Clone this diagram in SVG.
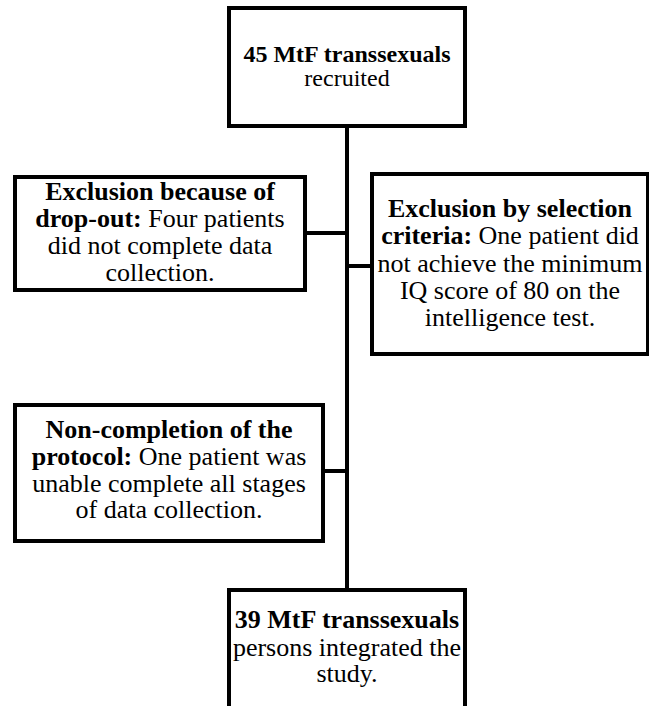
<svg xmlns="http://www.w3.org/2000/svg" width="649" height="706" viewBox="0 0 649 706">
<style>
.box{fill:#fff;stroke:#000;stroke-width:4}
.ln{stroke:#000;stroke-width:4;fill:none}
.t{font-size:26px;fill:#000;text-anchor:middle}
.b{font-weight:bold}
</style>
<rect width="649" height="706" fill="#fff"/>
<g id="connectors">
<line class="ln" x1="347" y1="126" x2="347" y2="590"/>
<line class="ln" x1="305" y1="233" x2="347" y2="233"/>
<line class="ln" x1="347" y1="266" x2="372" y2="266"/>
<line class="ln" x1="323" y1="471" x2="347" y2="471"/>
</g>
<g font-family="Liberation Serif, Tinos, Times New Roman, DejaVu Serif, serif">
<g id="recruited">
<rect class="box" x="229" y="8" width="236" height="118"/>
<text x="347" y="62" class="t b" style="font-size:24px">45 MtF transsexuals</text>
<text x="347" y="86" class="t" style="font-size:24px">recruited</text>
</g>
<g id="dropout">
<rect class="box" x="15" y="177" width="290" height="113"/>
<text x="160" y="200" class="t b">Exclusion because of</text>
<text x="160" y="227" class="t"><tspan class="b">drop-out:</tspan> Four patients</text>
<text x="160" y="254" class="t">did not complete data</text>
<text x="160" y="281" class="t">collection.</text>
</g>
<g id="selection">
<rect class="box" x="372" y="174" width="276" height="180"/>
<text x="510" y="217" class="t b">Exclusion by selection</text>
<text x="510" y="244" class="t"><tspan class="b">criteria:</tspan> One patient did</text>
<text x="510" y="272" class="t">not achieve the minimum</text>
<text x="510" y="299" class="t">IQ score of 80 on the</text>
<text x="510" y="326" class="t">intelligence test.</text>
</g>
<g id="noncompletion">
<rect class="box" x="15" y="405" width="308" height="136"/>
<text x="169" y="438" class="t b">Non-completion of the</text>
<text x="169" y="465" class="t"><tspan class="b">protocol:</tspan> One patient was</text>
<text x="169" y="492" class="t">unable complete all stages</text>
<text x="169" y="518" class="t">of data collection.</text>
</g>
<g id="integrated">
<rect class="box" x="229" y="590" width="236" height="120"/>
<text x="347" y="628" class="t b">39 MtF transsexuals</text>
<text x="347" y="656" class="t">persons integrated the</text>
<text x="347" y="682" class="t">study.</text>
</g>
</g>
</svg>
